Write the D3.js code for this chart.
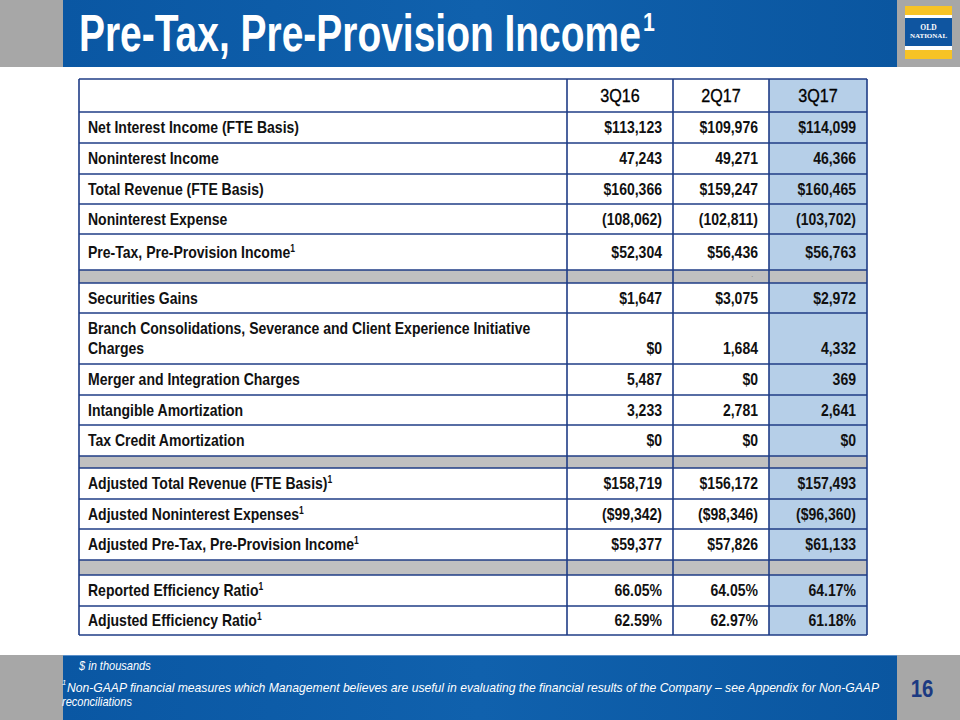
<!DOCTYPE html>
<html><head><meta charset="utf-8">
<script src="https://cdn.jsdelivr.net/npm/d3@7"></script>
<style>html,body{margin:0;padding:0;background:#fff}svg{display:block}</style>
</head><body>
<svg id="c" width="960" height="720"></svg>
<script>
// ---------- DATA ----------
const columns = ["3Q16", "2Q17", "3Q17"];
// "^1" marks a footnote superscript; "|" a line break; null marks a grey separator row
const rowLabels = [
  "Net Interest Income (FTE Basis)",
  "Noninterest Income",
  "Total Revenue (FTE Basis)",
  "Noninterest Expense",
  "Pre-Tax, Pre-Provision Income^1",
  null,
  "Securities Gains",
  "Branch Consolidations, Severance and Client Experience Initiative|Charges",
  "Merger and Integration Charges",
  "Intangible Amortization",
  "Tax Credit Amortization",
  null,
  "Adjusted Total Revenue (FTE Basis)^1",
  "Adjusted Noninterest Expenses^1",
  "Adjusted Pre-Tax, Pre-Provision Income^1",
  null,
  "Reported Efficiency Ratio^1",
  "Adjusted Efficiency Ratio^1"
];
const values3Q16 = ["$113,123","47,243","$160,366","(108,062)","$52,304",null,"$1,647","$0","5,487","3,233","$0",null,"$158,719","($99,342)","$59,377",null,"66.05%","62.59%"];
const values2Q17 = ["$109,976","49,271","$159,247","(102,811)","$56,436",".","$3,075","1,684","$0","2,781","$0",null,"$156,172","($98,346)","$57,826",null,"64.05%","62.97%"];
const values3Q17 = ["$114,099","46,366","$160,465","(103,702)","$56,763",null,"$2,972","4,332","369","2,641","$0",null,"$157,493","($96,360)","$61,133",null,"64.17%","61.18%"];
const seriesValues = [values3Q16, values2Q17, values3Q17];

const titleText = "Pre-Tax, Pre-Provision Income";
const footUnits = "$ in thousands";
const footNote1 = "Non-GAAP financial measures which Management believes are useful in evaluating the financial results of the Company \u2013 see Appendix for Non-GAAP";
const footNote2 = "reconciliations";
const pageNumber = "16";

// ---------- LAYOUT ----------
const W = 960;
const FONT = "'Liberation Sans Narrow','Arial Narrow','Liberation Sans',Arial,sans-serif";
const K = 0.85; // horizontal condensing to mimic a narrow face
const tableTop = 79, headerH = 33;
const rowHeights = [31,31,30,30,36,13,30,51,31,30,31,12,31,30,31,15,31,29];
const colEdges = [79, 567, 673, 769, 867];
const borderColor = "#1f3c86";
const grey = "#a7a7a7";
const highlight = "#b6cfe8";
const sepFill = "#c0c0c0";

function condense(node, k){
  const x = +node.getAttribute("x");
  node.setAttribute("transform", `translate(${x},0) scale(${k},1) translate(${-x},0)`);
}
function fitTo(node, width){
  const L = node.getComputedTextLength();
  condense(node, width / L);
}

const svg = d3.select("#c");
const defs = svg.append("defs");
const g1 = defs.append("linearGradient").attr("id","hdr").attr("x1","0").attr("x2","1").attr("y1","0").attr("y2","0");
g1.append("stop").attr("offset","0").attr("stop-color","#0a57a3");
g1.append("stop").attr("offset","0.5").attr("stop-color","#1061ad");
g1.append("stop").attr("offset","1").attr("stop-color","#0a56a0");

// Header band
svg.append("rect").attr("x",0).attr("y",0).attr("width",W).attr("height",67).attr("fill",grey);
svg.append("rect").attr("x",63).attr("y",0).attr("width",834).attr("height",67).attr("fill","url(#hdr)");

// Title
const title = svg.append("text").attr("x",79).attr("y",51)
  .attr("font-family",FONT).attr("font-weight","bold").attr("font-size",51).attr("fill","#fff").text(titleText);
fitTo(title.node(), 562);
svg.append("text").attr("x",643).attr("y",31).attr("font-family",FONT).attr("font-weight","bold")
  .attr("font-size",25).attr("fill","#fff").text("1").each(function(){condense(this,0.85);});

// Logo
const lg = svg.append("g");
lg.append("rect").attr("x",905).attr("y",6).attr("width",47).attr("height",53).attr("fill","#fff");
lg.append("rect").attr("x",905).attr("y",6).attr("width",47).attr("height",9).attr("fill","#f7c326");
lg.append("rect").attr("x",905).attr("y",50).attr("width",47).attr("height",9).attr("fill","#f7c326");
lg.append("rect").attr("x",905).attr("y",18).attr("width",47).attr("height",28).attr("fill","#0f55a0");
lg.append("text").attr("x",928.5).attr("y",30).attr("text-anchor","middle").attr("font-family","'Liberation Serif',serif")
  .attr("font-weight","bold").attr("font-size",7.5).attr("fill","#fff").text("OLD");
lg.append("text").attr("x",928.5).attr("y",38).attr("text-anchor","middle").attr("font-family","'Liberation Serif',serif")
  .attr("font-weight","bold").attr("font-size",7).attr("fill","#fff").text("NATIONAL");

// Footer
svg.append("rect").attr("x",0).attr("y",655).attr("width",W).attr("height",65).attr("fill",grey);
svg.append("rect").attr("x",63).attr("y",655).attr("width",834).attr("height",65).attr("fill","url(#hdr)");
svg.append("line").attr("x1",63).attr("x2",897).attr("y1",655.5).attr("y2",655.5).attr("stroke","#5b8fc8").attr("stroke-width",1);

svg.append("text").attr("x",79).attr("y",670).attr("font-family",FONT).attr("font-style","italic")
  .attr("font-size",13).attr("fill","#fff").text(footUnits).each(function(){condense(this,K);});
svg.append("text").attr("x",62).attr("y",685).attr("font-family",FONT).attr("font-style","italic")
  .attr("font-size",7.5).attr("fill","#fff").text("1");
svg.append("text").attr("x",67).attr("y",692).attr("font-family",FONT).attr("font-style","italic")
  .attr("font-size",13).attr("fill","#fff").text(footNote1).each(function(){fitTo(this,813);});
svg.append("text").attr("x",62).attr("y",706).attr("font-family",FONT).attr("font-style","italic")
  .attr("font-size",13).attr("fill","#fff").text(footNote2).each(function(){condense(this,K);});
svg.append("text").attr("x",922).attr("y",697).attr("text-anchor","middle").attr("font-family",FONT)
  .attr("font-weight","bold").attr("font-size",24).attr("fill","#1c3a82").text(pageNumber)
  .each(function(){condense(this,K);});

// ---------- TABLE ----------
const rowTops = [tableTop + headerH];
rowHeights.forEach((h,i)=>rowTops.push(rowTops[i]+h));
const tableBottom = rowTops[rowTops.length-1];
const rows = rowLabels.map((lab,i)=>({lab, i, y:rowTops[i], h:rowHeights[i], vals: seriesValues.map(s=>s[i])}));

const colScale = d3.scaleOrdinal().domain(columns).range(colEdges.slice(1,4));
const colRight = d3.scaleOrdinal().domain(columns).range(colEdges.slice(2,5));

const tbl = svg.append("g");
tbl.append("rect").attr("x",colEdges[0]).attr("y",tableTop).attr("width",colEdges[4]-colEdges[0])
  .attr("height",tableBottom-tableTop).attr("fill","#fff");
tbl.append("rect").attr("x",colScale("3Q17")).attr("y",tableTop).attr("width",colRight("3Q17")-colScale("3Q17"))
  .attr("height",tableBottom-tableTop).attr("fill",highlight);
tbl.selectAll("rect.sep").data(rows.filter(r=>r.lab===null)).join("rect").attr("class","sep")
  .attr("x",colEdges[0]).attr("y",d=>d.y).attr("width",colEdges[4]-colEdges[0]).attr("height",d=>d.h).attr("fill",sepFill);

// header labels
tbl.selectAll("text.hd").data(columns).join("text").attr("class","hd")
  .attr("x",d=>(colScale(d)+colRight(d))/2).attr("y",tableTop+headerH/2+6.5).attr("text-anchor","middle")
  .attr("font-family",FONT).attr("font-size",19).attr("fill","#000").attr("stroke","#000").attr("stroke-width",0.35)
  .text(d=>d)
  .each(function(){condense(this,K);});

// row labels
const labelRows = rows.filter(r=>r.lab!==null);
tbl.selectAll("g.lab").data(labelRows).join("g").attr("class","lab").each(function(d){
  const g = d3.select(this);
  const parts = d.lab.split("|");
  parts.forEach((p,k)=>{
    const sup = p.endsWith("^1");
    const txt = sup ? p.slice(0,-2) : p;
    const baseY = parts.length===1 ? d.y + d.h/2 + 6 : d.y + 21 + k*20;
    const t = g.append("text").attr("x",colEdges[0]+9).attr("y",baseY)
      .attr("font-family",FONT).attr("font-weight","bold").attr("font-size",16.5).attr("fill","#111");
    t.append("tspan").text(txt);
    if(sup) t.append("tspan").attr("font-size",10).attr("dy",-6).text("1");
    condense(t.node(), K);
  });
});

// values
columns.forEach((c,ci)=>{
  tbl.selectAll("text.v"+ci).data(rows.filter(r=>r.vals[ci]!==null)).join("text").attr("class","v"+ci)
    .attr("x",d=>d.vals[ci]==="." ? colRight(c)-16 : colRight(c)-11)
    .attr("y",d=>{
      if(d.vals[ci]===".") return d.y+d.h/2+1;
      return d.lab.split("|").length===1 ? d.y + d.h/2 + 6 : d.y + 41;
    })
    .attr("text-anchor","end").attr("font-family",FONT).attr("font-weight","bold")
    .attr("font-size",d=>d.vals[ci]==="."?6:16.5).attr("fill",d=>d.vals[ci]==="."?"#777":"#111").text(d=>d.vals[ci])
    .each(function(){condense(this,K);});
});

// grid lines
const hLines = [tableTop].concat(rowTops);
tbl.selectAll("line.h").data(hLines).join("line").attr("class","h")
  .attr("x1",colEdges[0]).attr("x2",colEdges[4]).attr("y1",d=>d).attr("y2",d=>d)
  .attr("stroke",borderColor).attr("stroke-width",1.6);
tbl.selectAll("line.v").data(colEdges).join("line").attr("class","v")
  .attr("x1",d=>d).attr("x2",d=>d).attr("y1",tableTop).attr("y2",tableBottom)
  .attr("stroke",borderColor).attr("stroke-width",1.6);
</script>
</body></html>
